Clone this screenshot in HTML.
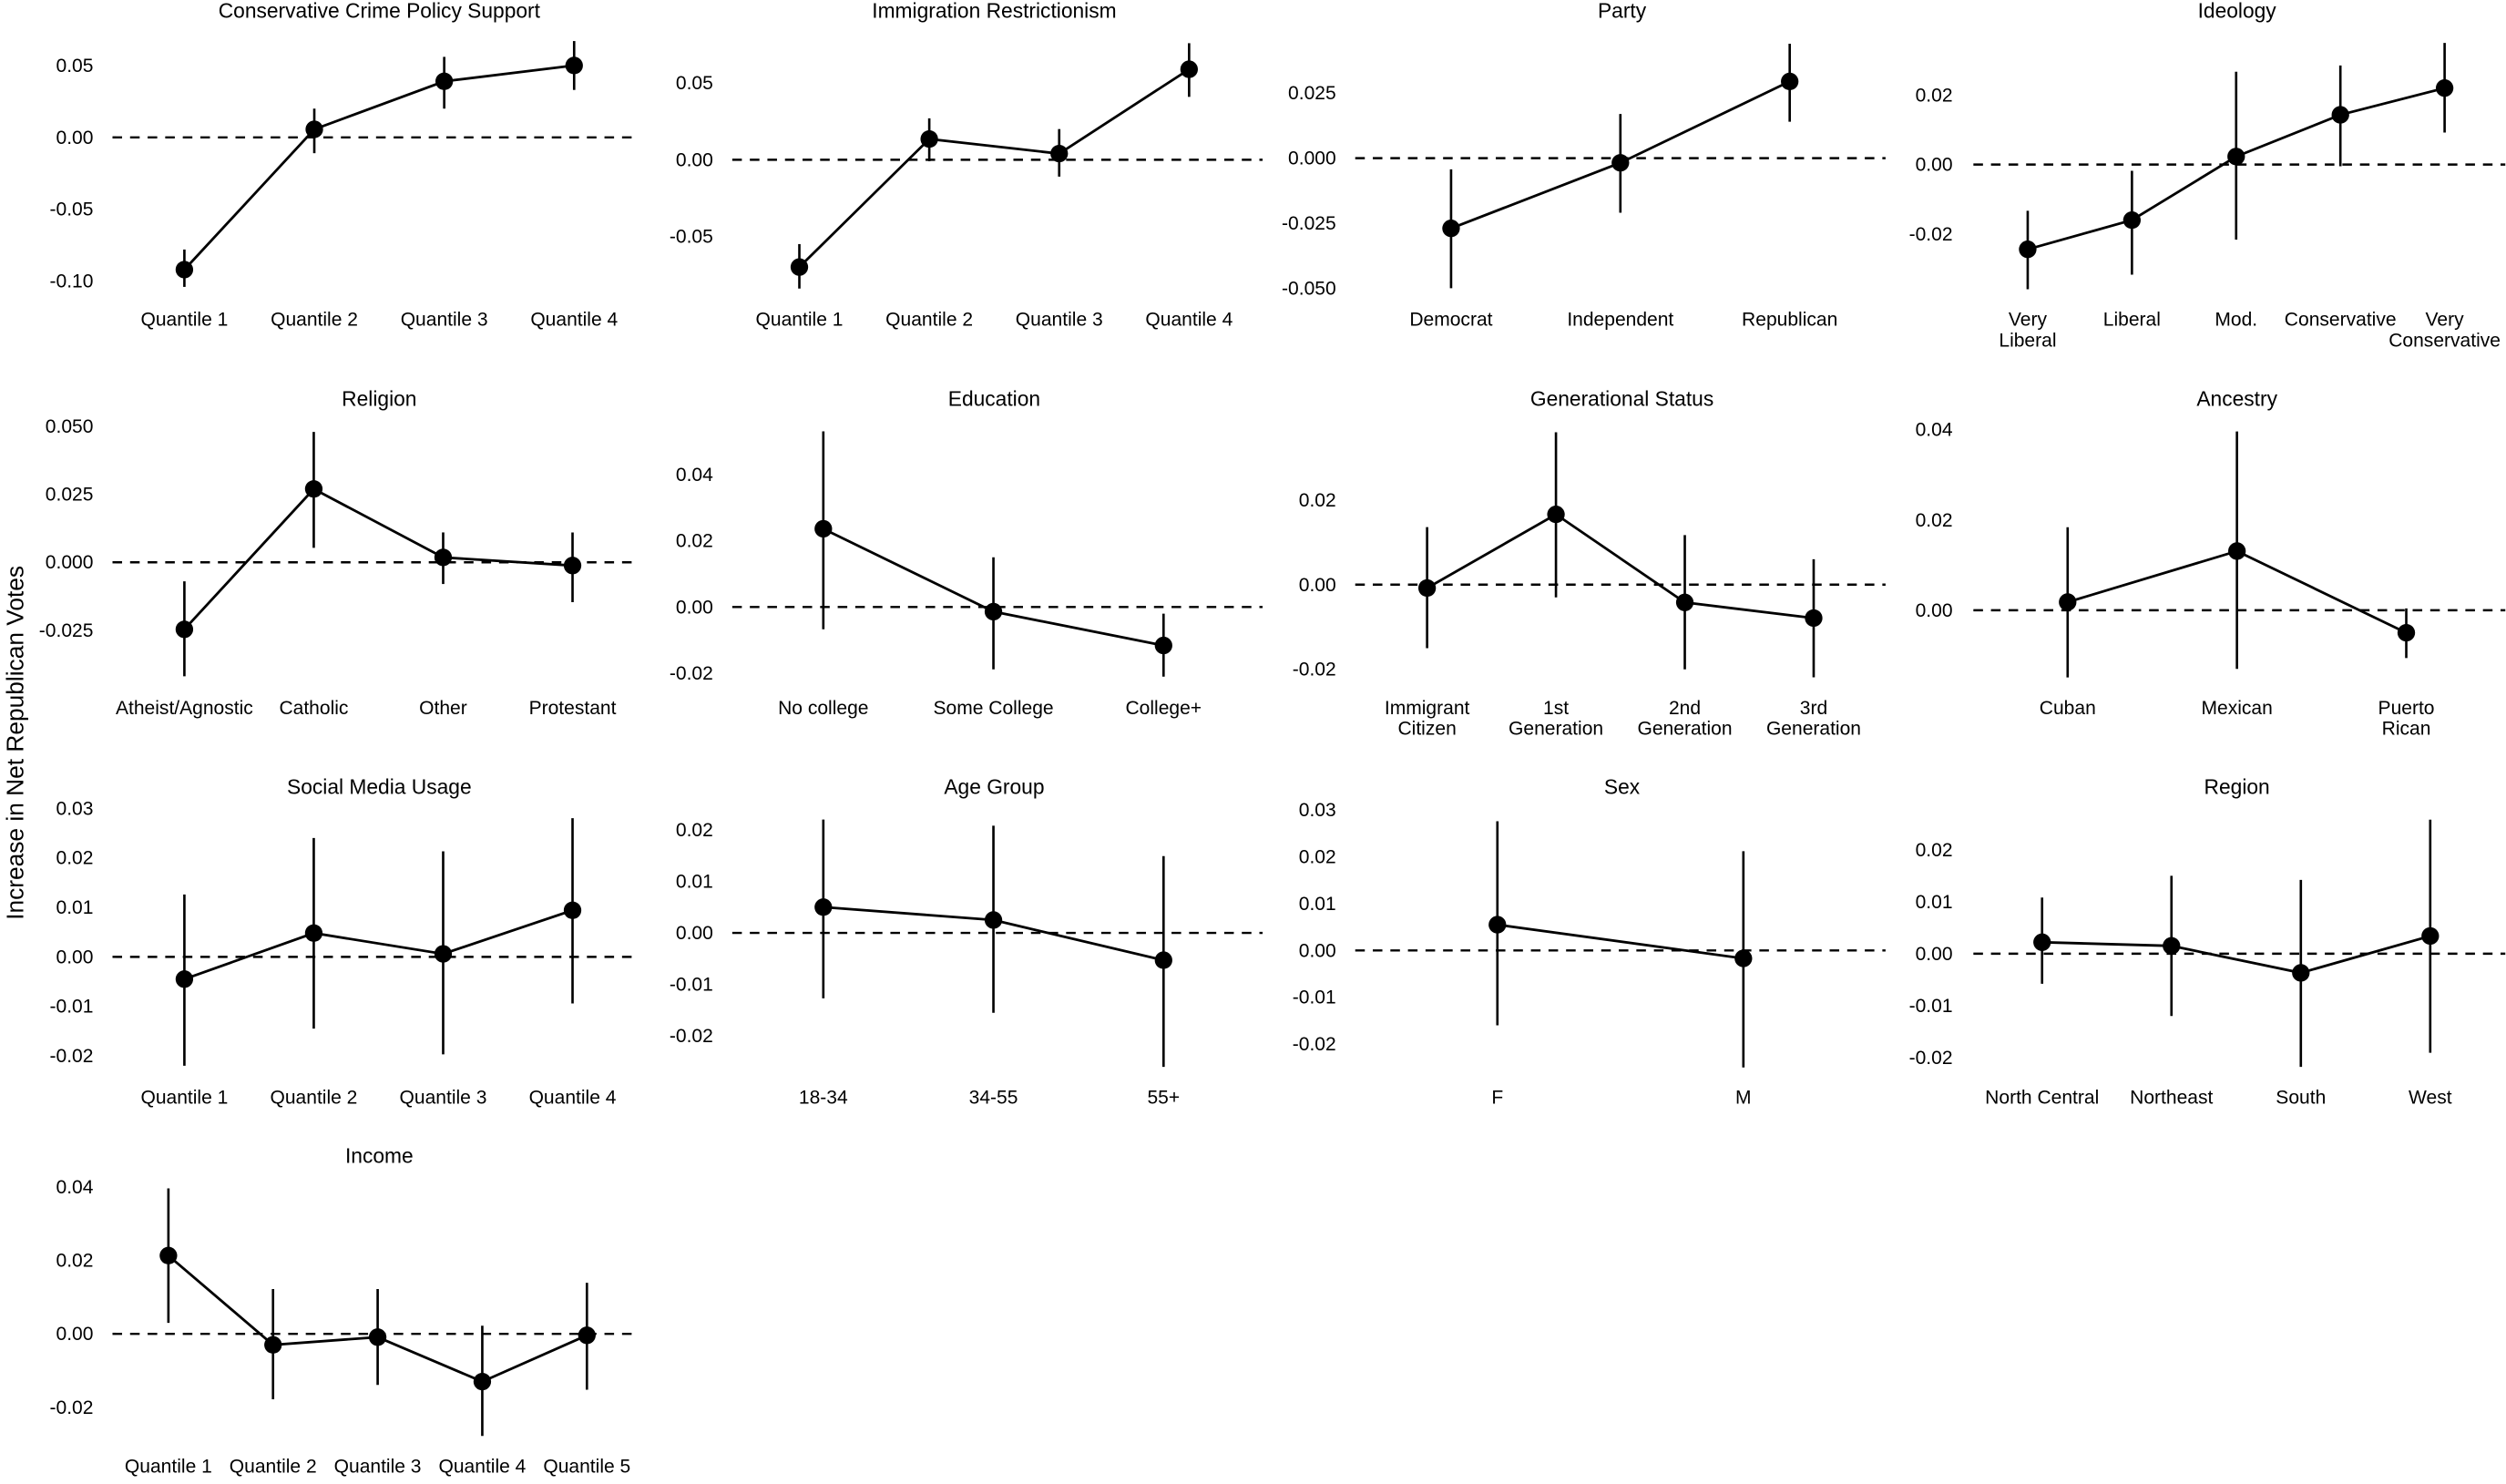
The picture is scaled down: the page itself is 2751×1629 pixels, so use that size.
<!DOCTYPE html>
<html><head><meta charset="utf-8"><style>
html,body{margin:0;padding:0;background:#fff}
svg{display:block}
text{font-family:"Liberation Sans",Arial,sans-serif;fill:#000}
</style></head><body>
<svg id="chart" width="2751" height="1629" viewBox="0 0 1568 929" xmlns="http://www.w3.org/2000/svg">
<text transform="translate(14,465) rotate(-90)" text-anchor="middle" font-size="15">Increase in Net Republican Votes</text>
</svg>
<script>
const p1Cats=["Quantile 1","Quantile 2","Quantile 3","Quantile 4"];
const p1Vals=[-0.092,0.0056,0.039,0.05];
const p1Lo=[-0.104,-0.011,0.02,0.033];
const p1Hi=[-0.078,0.02,0.056,0.067];
const p1Ticks=[0.05,0,-0.05,-0.1];
const p1Labels=["0.05","0.00","-0.05","-0.10"];

const p2Cats=["Quantile 1","Quantile 2","Quantile 3","Quantile 4"];
const p2Vals=[-0.07,0.0135,0.004,0.059];
const p2Lo=[-0.084,-0.001,-0.011,0.041];
const p2Hi=[-0.055,0.027,0.02,0.076];
const p2Ticks=[0.05,0,-0.05];
const p2Labels=["0.05","0.00","-0.05"];

const p3Cats=["Democrat","Independent","Republican"];
const p3Vals=[-0.027,-0.0018,0.0295];
const p3Lo=[-0.05,-0.021,0.014];
const p3Hi=[-0.0043,0.017,0.044];
const p3Ticks=[0.025,0,-0.025,-0.05];
const p3Labels=["0.025","0.000","-0.025","-0.050"];

const p4Cats=["Very\nLiberal","Liberal","Mod.","Conservative","Very\nConservative"];
const p4Vals=[-0.0244,-0.016,0.0023,0.0143,0.022];
const p4Lo=[-0.0359,-0.0317,-0.0216,-0.0005,0.0092];
const p4Hi=[-0.0133,-0.0018,0.0267,0.0285,0.035];
const p4Ticks=[0.02,0,-0.02];
const p4Labels=["0.02","0.00","-0.02"];

const p5Cats=["Atheist/Agnostic","Catholic","Other","Protestant"];
const p5Vals=[-0.0247,0.027,0.0018,-0.0012];
const p5Lo=[-0.042,0.0053,-0.008,-0.0147];
const p5Hi=[-0.007,0.048,0.011,0.011];
const p5Ticks=[0.05,0.025,0,-0.025];
const p5Labels=["0.050","0.025","0.000","-0.025"];

const p6Cats=["No college","Some College","College+"];
const p6Vals=[0.0236,-0.0014,-0.0116];
const p6Lo=[-0.0067,-0.0188,-0.021];
const p6Hi=[0.053,0.015,-0.002];
const p6Ticks=[0.04,0.02,0,-0.02];
const p6Labels=["0.04","0.02","0.00","-0.02"];

const p7Cats=["Immigrant\nCitizen","1st\nGeneration","2nd\nGeneration","3rd\nGeneration"];
const p7Vals=[-0.0008,0.0166,-0.0042,-0.0079];
const p7Lo=[-0.015,-0.003,-0.02,-0.0219];
const p7Hi=[0.0136,0.036,0.0117,0.006];
const p7Ticks=[0.02,0,-0.02];
const p7Labels=["0.02","0.00","-0.02"];

const p8Cats=["Cuban","Mexican","Puerto\nRican"];
const p8Vals=[0.0018,0.0131,-0.005];
const p8Lo=[-0.0149,-0.013,-0.0106];
const p8Hi=[0.0184,0.0396,0.0004];
const p8Ticks=[0.04,0.02,0];
const p8Labels=["0.04","0.02","0.00"];

const p9Cats=["Quantile 1","Quantile 2","Quantile 3","Quantile 4"];
const p9Vals=[-0.0045,0.0048,0.0006,0.0094];
const p9Lo=[-0.022,-0.0145,-0.0197,-0.0094];
const p9Hi=[0.0126,0.024,0.0213,0.028];
const p9Ticks=[0.03,0.02,0.01,0,-0.01,-0.02];
const p9Labels=["0.03","0.02","0.01","0.00","-0.01","-0.02"];

const p10Cats=["18-34","34-55","55+"];
const p10Vals=[0.005,0.0025,-0.0053];
const p10Lo=[-0.0127,-0.0155,-0.026];
const p10Hi=[0.022,0.0208,0.0149];
const p10Ticks=[0.02,0.01,0,-0.01,-0.02];
const p10Labels=["0.02","0.01","0.00","-0.01","-0.02"];

const p11Cats=["F","M"];
const p11Vals=[0.0055,-0.0017];
const p11Lo=[-0.016,-0.025];
const p11Hi=[0.0276,0.0212];
const p11Ticks=[0.03,0.02,0.01,0,-0.01,-0.02];
const p11Labels=["0.03","0.02","0.01","0.00","-0.01","-0.02"];

const p12Cats=["North Central","Northeast","South","West"];
const p12Vals=[0.0022,0.0015,-0.0037,0.0034];
const p12Lo=[-0.0058,-0.012,-0.0218,-0.0191];
const p12Hi=[0.0108,0.015,0.0142,0.0258];
const p12Ticks=[0.02,0.01,0,-0.01,-0.02];
const p12Labels=["0.02","0.01","0.00","-0.01","-0.02"];

const p13Cats=["Quantile 1","Quantile 2","Quantile 3","Quantile 4","Quantile 5"];
const p13Vals=[0.0213,-0.003,-0.0009,-0.013,-0.0004];
const p13Lo=[0.003,-0.0178,-0.0139,-0.0278,-0.0152];
const p13Hi=[0.0396,0.0122,0.0122,0.0022,0.0139];
const p13Ticks=[0.04,0.02,0,-0.02];
const p13Labels=["0.04","0.02","0.00","-0.02"];

// layout (pixel geometry only)
const panels=[
 {id:"crime",title:"Conservative Crime Policy Support",c:p1Cats,v:p1Vals,lo:p1Lo,hi:p1Hi,t:p1Ticks,tl:p1Labels,col:0,row:0,x0:115,x1:359,y0:86,ppu:900},
 {id:"immigration",title:"Immigration Restrictionism",c:p2Cats,v:p2Vals,lo:p2Lo,hi:p2Hi,t:p2Ticks,tl:p2Labels,col:1,row:0,x0:500,x1:744,y0:100,ppu:960},
 {id:"party",title:"Party",c:p3Cats,v:p3Vals,lo:p3Lo,hi:p3Hi,t:p3Ticks,tl:p3Labels,col:2,row:0,x0:908,x1:1120,y0:99,ppu:1628},
 {id:"ideology",title:"Ideology",c:p4Cats,v:p4Vals,lo:p4Lo,hi:p4Hi,t:p4Ticks,tl:p4Labels,col:3,row:0,x0:1269,x1:1530,y0:103,ppu:2175},
 {id:"religion",title:"Religion",c:p5Cats,v:p5Vals,lo:p5Lo,hi:p5Hi,t:p5Ticks,tl:p5Labels,col:0,row:1,x0:115,x1:358,y0:352,ppu:1700},
 {id:"education",title:"Education",c:p6Cats,v:p6Vals,lo:p6Lo,hi:p6Hi,t:p6Ticks,tl:p6Labels,col:1,row:1,x0:515,x1:728,y0:380,ppu:2075},
 {id:"generation",title:"Generational Status",c:p7Cats,v:p7Vals,lo:p7Lo,hi:p7Hi,t:p7Ticks,tl:p7Labels,col:2,row:1,x0:893,x1:1135,y0:366,ppu:2650},
 {id:"ancestry",title:"Ancestry",c:p8Cats,v:p8Vals,lo:p8Lo,hi:p8Hi,t:p8Ticks,tl:p8Labels,col:3,row:1,x0:1294,x1:1506,y0:382,ppu:2825},
 {id:"social-media",title:"Social Media Usage",c:p9Cats,v:p9Vals,lo:p9Lo,hi:p9Hi,t:p9Ticks,tl:p9Labels,col:0,row:2,x0:115,x1:358,y0:599,ppu:3100},
 {id:"age",title:"Age Group",c:p10Cats,v:p10Vals,lo:p10Lo,hi:p10Hi,t:p10Ticks,tl:p10Labels,col:1,row:2,x0:515,x1:728,y0:584,ppu:3225},
 {id:"sex",title:"Sex",c:p11Cats,v:p11Vals,lo:p11Lo,hi:p11Hi,t:p11Ticks,tl:p11Labels,col:2,row:2,x0:937,x1:1091,y0:595,ppu:2930},
 {id:"region",title:"Region",c:p12Cats,v:p12Vals,lo:p12Lo,hi:p12Hi,t:p12Ticks,tl:p12Labels,col:3,row:2,x0:1278,x1:1521,y0:597,ppu:3250},
 {id:"income",title:"Income",c:p13Cats,v:p13Vals,lo:p13Lo,hi:p13Hi,t:p13Ticks,tl:p13Labels,col:0,row:3,x0:105,x1:367,y0:835,ppu:2300}
];
const colL=[70,458,848,1235], colR=[400,790,1180,1568], tickX=[58,446,836,1222], titleX=[237,622,1015,1400];
const titleY=[11,254,497,728], catY=[204,447,691,922];
const NS="http://www.w3.org/2000/svg";
const svg=document.getElementById("chart");
function mk(tag,attrs,parent){const e=document.createElementNS(NS,tag);for(const k in attrs)e.setAttribute(k,attrs[k]);parent.appendChild(e);return e;}
panels.forEach(p=>{
 const g=mk("g",{},svg);
 
 
 const y=v=>p.y0-v*p.ppu;
 const n=p.c.length;
 const x=i=>n===1?p.x0:p.x0+(p.x1-p.x0)*i/(n-1);
 const t=mk("text",{x:titleX[p.col],y:titleY[p.row],"text-anchor":"middle","font-size":13},g);
 t.textContent=p.title;
 
 
 p.t.forEach((tv,i)=>{
  const tt=mk("text",{x:tickX[p.col],y:y(tv)+4,"text-anchor":"end","font-size":12},g);
  tt.textContent=p.tl[i];
  
  
 });
 const zl=mk("line",{x1:colL[p.col],x2:colR[p.col],y1:y(0),y2:y(0),stroke:"#000","stroke-width":1.4,"stroke-dasharray":"6,5"},g);
 
 
 p.c.forEach((c,i)=>{
  const lines=c.split("\n");
  const ct=mk("text",{x:x(i),y:catY[p.row],"text-anchor":"middle","font-size":12},g);
  lines.forEach((l,j)=>{const ts=mk("tspan",{x:x(i),dy:j?13:0},ct);ts.textContent=l;});
  
  
  const eb=mk("line",{x1:x(i),x2:x(i),y1:y(p.lo[i]),y2:y(p.hi[i]),stroke:"#000","stroke-width":1.5},g);
  
  
 });
 const pts=p.v.map((v,i)=>x(i)+","+y(v)).join(" ");
 const pl=mk("polyline",{points:pts,fill:"none",stroke:"#000","stroke-width":1.6},g);
 
 
 p.v.forEach((v,i)=>{
  const c=mk("circle",{cx:x(i),cy:y(v),r:5.5,fill:"#000"},g);
  
  
 });
});
</script>
</body></html>
